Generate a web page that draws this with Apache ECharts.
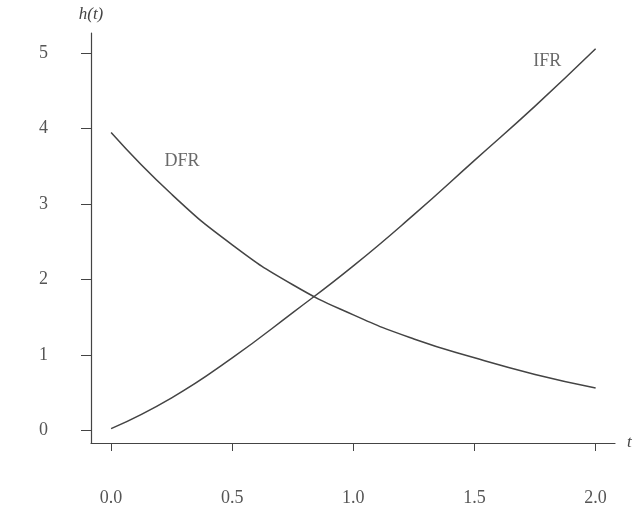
<!DOCTYPE html>
<html>
<head>
<meta charset="utf-8">
<script src="https://cdn.jsdelivr.net/npm/echarts@6/dist/echarts.min.js"></script>
<style>
  html, body { margin: 0; padding: 0; background: #fff; }
  #main { width: 635px; height: 510px; }
</style>
</head>
<body>
<div id="main"></div>
<script>
// hazard rate curves
var tValues = [0, 0.25, 0.5, 0.75, 1.0, 1.25, 1.5, 1.75, 2.0];
var dfrValues = [3.95, 3.13, 2.46, 1.93, 1.53, 1.21, 0.96, 0.74, 0.56];
var ifrValues = [0.02, 0.43, 0.96, 1.56, 2.18, 2.86, 3.58, 4.30, 5.06];
var xTicks = [0, 0.5, 1.0, 1.5, 2.0];
var yTicks = [0, 1, 2, 3, 4, 5];
var curveLabels = [[0.293, 3.57, 'DFR'], [1.80, 4.89, 'IFR']];

var serif = '"Liberation Serif", "DejaVu Serif", serif';
var ink = '#444';

function pairs(ys) {
    return tValues.map(function (t, i) { return [t, ys[i]]; });
}

var chart = echarts.init(document.getElementById('main'));
chart.setOption({
    animation: false,
    backgroundColor: '#fff',
    grid: { left: 91, right: 20, top: 33, bottom: 67, containLabel: false },
    xAxis: {
        type: 'value',
        min: -0.083,
        max: 2.08,
        name: 't',
        nameLocation: 'end',
        nameGap: 12,
        nameTextStyle: { fontFamily: serif, fontStyle: 'italic', fontSize: 17, color: ink },
        axisLine: { show: true, onZero: false, lineStyle: { color: ink, width: 1.2 } },
        axisTick: { show: true, length: 8, customValues: xTicks, lineStyle: { color: ink } },
        axisLabel: {
            customValues: xTicks, margin: 46,
            fontFamily: serif, fontSize: 18, color: '#555',
            formatter: function (v) { return v.toFixed(1); }
        },
        splitLine: { show: false }
    },
    yAxis: {
        type: 'value',
        min: -0.17,
        max: 5.27,
        name: 'h(t)',
        nameLocation: 'end',
        nameGap: 10,
        nameTextStyle: { fontFamily: serif, fontStyle: 'italic', fontSize: 17, color: ink, align: 'center' },
        axisLine: { show: true, onZero: false, lineStyle: { color: ink, width: 1.2 } },
        axisTick: { show: true, length: 10, customValues: yTicks, lineStyle: { color: ink } },
        axisLabel: {
            customValues: yTicks, margin: 43,
            fontFamily: serif, fontSize: 18, color: '#555'
        },
        splitLine: { show: false }
    },
    series: [
        {
            name: 'DFR', type: 'line', smooth: true, symbol: 'none',
            lineStyle: { color: ink, width: 1.5 },
            data: pairs(dfrValues)
        },
        {
            name: 'IFR', type: 'line', smooth: true, symbol: 'none',
            lineStyle: { color: ink, width: 1.5 },
            data: pairs(ifrValues)
        },
        {
            name: 'labels', type: 'scatter', symbolSize: 0,
            label: {
                show: true, position: 'inside',
                fontFamily: serif, fontSize: 18, color: '#444',
                formatter: function (p) { return p.value[2]; }
            },
            data: curveLabels
        }
    ]
});
</script>
</body>
</html>
